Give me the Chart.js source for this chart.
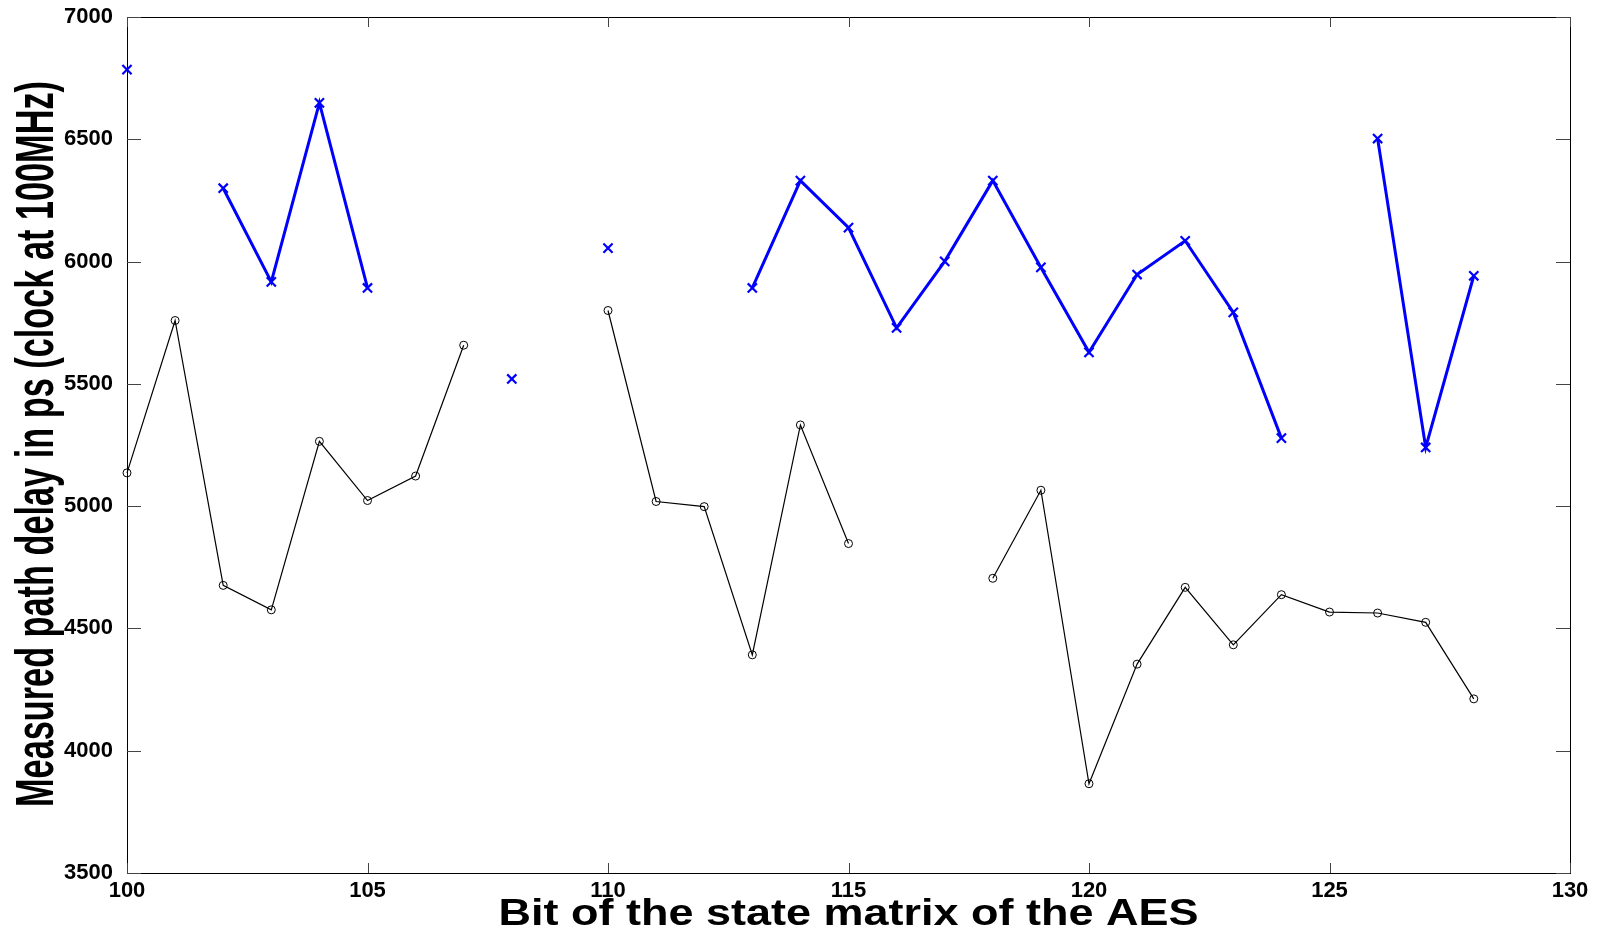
<!DOCTYPE html>
<html>
<head>
<meta charset="utf-8">
<script src="https://cdn.jsdelivr.net/npm/chart.js@4.4.1/dist/chart.umd.min.js"></script>
<style>
    html, body { margin: 0; padding: 0; background: #fff; }
    #wrap { width: 1602px; height: 933px; position: relative; }
</style>
</head>
<body>
<div id="wrap"><canvas id="chart-delay"></canvas></div>
<script>
// Bit index on the x axis
const bits = [100, 101, 102, 103, 104, 105, 106, 107, 108, 109, 110, 111, 112, 113, 114,
              115, 116, 117, 118, 119, 120, 121, 122, 123, 124, 125, 126, 127, 128];

// Blue series (x markers), null = no measurement
const delayBlue = [6785, null, 6300, 5917, 6649, 5892, null, null, 5520, null, 6055, null, null, 5892, 6331,
                   6139, 5729, 6001, 6331, 5976, 5629, 5947, 6085, 5792, 5278, null, 6503, 5240, 5942];

// Black series (circle markers)
const delayBlack = [5136, 5759, 4676, 4576, 5265, 5023, 5123, 5658, null, null, 5800, 5019, 4998, 4392, 5332,
                    4847, null, null, 4705, 5065, 3865, 4354, 4668, 4433, 4638, 4567, 4563, 4525, 4212];

// Axis ticks
const xTicks = [100, 105, 110, 115, 120, 125, 130];
const yTicks = [3500, 4000, 4500, 5000, 5500, 6000, 6500, 7000];

const xTitle = 'Bit of the state matrix of the AES';
const yTitle = 'Measured path delay in ps (clock at 100MHz)';

const toPoints = (vals) => bits.map((b, i) => ({ x: b, y: vals[i] }));

// Frame + inward ticks, MATLAB style
const framePlugin = {
    id: 'frame',
    beforeDatasetsDraw(chart) {
        const { ctx, chartArea: a, scales } = chart;
        ctx.save();
        ctx.strokeStyle = '#000';
        ctx.lineWidth = 1;
        ctx.strokeRect(a.left + 0.5, a.top + 0.5, a.right - a.left, a.bottom - a.top);
        ctx.strokeStyle = '#444';
        ctx.beginPath();
        scales.y.ticks.forEach(t => {
            const py = Math.round(scales.y.getPixelForValue(t.value)) + 0.5;
            ctx.moveTo(a.left, py); ctx.lineTo(a.left + 14, py);
            ctx.moveTo(a.right, py); ctx.lineTo(a.right - 14, py);
        });
        scales.x.ticks.forEach(t => {
            const px = Math.round(scales.x.getPixelForValue(t.value)) + 0.5;
            ctx.moveTo(px, a.bottom); ctx.lineTo(px, a.bottom - 10);
            ctx.moveTo(px, a.top); ctx.lineTo(px, a.top + 10);
        });
        ctx.stroke();
        ctx.restore();
    },
    afterDraw(chart) {
        const { ctx, chartArea: a } = chart;
        ctx.save();
        ctx.fillStyle = '#000';
        ctx.textAlign = 'center';
        ctx.textBaseline = 'alphabetic';

        // y title, squeezed along its length like the original
        ctx.font = 'bold 54px "Liberation Sans", Arial, sans-serif';
        let w = ctx.measureText(yTitle).width;
        ctx.save();
        ctx.translate(53, 444);
        ctx.rotate(-Math.PI / 2);
        ctx.scale(726 / w, 1);
        ctx.fillText(yTitle, 0, 0);
        ctx.restore();

        // x title
        ctx.font = 'bold 37px "Liberation Sans", Arial, sans-serif';
        w = ctx.measureText(xTitle).width;
        ctx.save();
        ctx.translate((a.left + a.right) / 2, 925);
        ctx.scale(700 / w, 1);
        ctx.fillText(xTitle, 0, 0);
        ctx.restore();

        ctx.restore();
    }
};

const tickFont = { family: '"Liberation Sans", Arial, sans-serif', size: 22, weight: 'bold' };

new Chart(document.getElementById('chart-delay').getContext('2d'), {
    type: 'line',
    data: {
        datasets: [{
            label: 'blue',
            data: toPoints(delayBlue),
            borderColor: '#0000ff',
            borderWidth: 3,
            pointStyle: 'crossRot',
            pointRadius: 6.5,
            pointBorderWidth: 2.2,
            pointBorderColor: '#0000ff',
            spanGaps: false,
            tension: 0,
            clip: false
        }, {
            label: 'black',
            data: toPoints(delayBlack),
            borderColor: '#000',
            borderWidth: 1.2,
            pointStyle: 'circle',
            pointRadius: 4,
            pointBorderWidth: 1,
            pointBorderColor: '#000',
            pointBackgroundColor: 'rgba(0,0,0,0)',
            spanGaps: false,
            tension: 0,
            clip: false
        }]
    },
    options: {
        responsive: true,
        maintainAspectRatio: false,
        animation: false,
        layout: { padding: { left: 0, top: 17, right: 32, bottom: 0 } },
        plugins: {
            legend: { display: false },
            tooltip: { enabled: false }
        },
        scales: {
            x: {
                type: 'linear',
                min: 100,
                max: 130,
                afterBuildTicks: (s) => { s.ticks = xTicks.map(v => ({ value: v })); },
                afterFit: (s) => { s.height = 60; s.paddingLeft = 0; s.paddingRight = 0; },
                grid: { display: false, drawTicks: false },
                border: { display: false },
                ticks: {
                    color: '#000',
                    font: tickFont,
                    padding: 5,
                    autoSkip: false,
                    maxRotation: 0,
                    callback: (v) => String(v)
                }
            },
            y: {
                min: 3500,
                max: 7000,
                afterBuildTicks: (s) => { s.ticks = yTicks.map(v => ({ value: v })); },
                afterFit: (s) => { s.width = 127; s.paddingTop = 0; s.paddingBottom = 0; },
                grid: { display: false, drawTicks: false },
                border: { display: false },
                ticks: {
                    color: '#000',
                    font: tickFont,
                    padding: 14,
                    autoSkip: false,
                    callback: (v) => String(v)
                }
            }
        }
    },
    plugins: [framePlugin]
});
</script>
</body>
</html>
